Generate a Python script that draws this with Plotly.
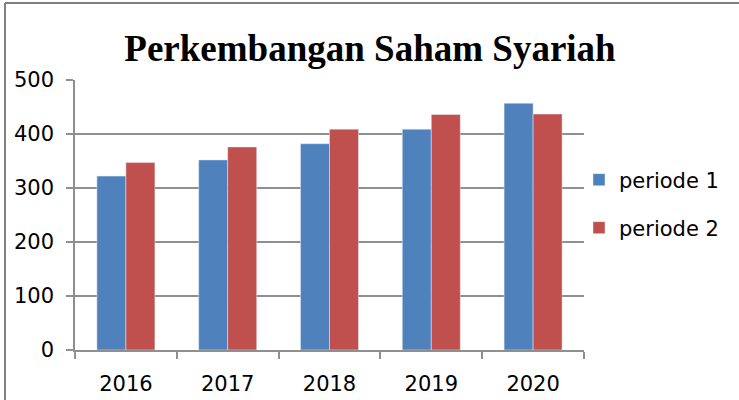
import plotly.graph_objects as go

years = ["2016", "2017", "2018", "2019", "2020"]
periode_1 = [322, 352, 382, 409, 457]
periode_2 = [347, 376, 409, 436, 437]
y_ticks = [0, 100, 200, 300, 400, 500]

blue = "#4F81BD"
red = "#C0504D"
grid = "#8f8f8f"
font = "DejaVu Sans"

W, H = 739, 400
L, R, T, B = 75, 155, 80, 50
pw, ph = W - L - R, H - T - B

def px_x(x):
    return (x - L) / pw

def px_y(y):
    return 1 - (y - T) / ph

fig = go.Figure()
fig.add_trace(go.Bar(x=years, y=periode_1, name="periode 1", marker_color=blue,
                     legend="legend", showlegend=True))
fig.add_trace(go.Bar(x=years, y=periode_2, name="periode 2", marker_color=red,
                     legend="legend2", showlegend=True))

fig.update_layout(
    width=W, height=H,
    margin=dict(l=L, r=R, t=T, b=B, autoexpand=False),
    paper_bgcolor="white", plot_bgcolor="white",
    barmode="group", bargap=0.43, bargroupgap=0,
    showlegend=True,
    title=dict(text="<b>Perkembangan Saham Syariah</b>",
               font=dict(family="Liberation Serif", size=37, color="black"),
               x=370 / W, xanchor="center", y=1 - 48 / H, yanchor="middle"),
    font=dict(family=font, size=21, color="black"),
    legend=dict(x=px_x(579), y=px_y(180), xanchor="left", yanchor="middle",
                font=dict(family=font, size=21), bgcolor="rgba(0,0,0,0)", visible=True),
    legend2=dict(x=px_x(579), y=px_y(228), xanchor="left", yanchor="middle",
                 font=dict(family=font, size=21), bgcolor="rgba(0,0,0,0)", visible=True),
    xaxis=dict(type="category", showline=True, linecolor=grid, linewidth=1.5,
               ticks="outside", tickson="boundaries", ticklen=7, tickcolor=grid, tickwidth=1.5,
               showgrid=False, ticklabelstandoff=14, tickfont=dict(family=font, size=21)),
    yaxis=dict(range=[0, 500], tickvals=y_ticks, showline=True, linecolor=grid, linewidth=1.5,
               ticks="outside", ticklen=7, tickcolor=grid, tickwidth=1.5,
               showgrid=True, gridcolor=grid, gridwidth=1.5, zeroline=False,
               ticklabelstandoff=8, tickfont=dict(family=font, size=21)),
    shapes=[
        dict(type="line", xref="paper", yref="paper", x0=px_x(5), x1=px_x(W + 5), y0=px_y(3), y1=px_y(3),
             line=dict(color="#7f7f7f", width=2)),
        dict(type="line", xref="paper", yref="paper", x0=px_x(5), x1=px_x(5), y0=px_y(3), y1=px_y(H + 5),
             line=dict(color="#7f7f7f", width=2)),
    ],
)

fig.write_html("out.html", config={"displayModeBar": False},
               post_script="document.body.style.margin='0';document.body.style.overflow='hidden';")
